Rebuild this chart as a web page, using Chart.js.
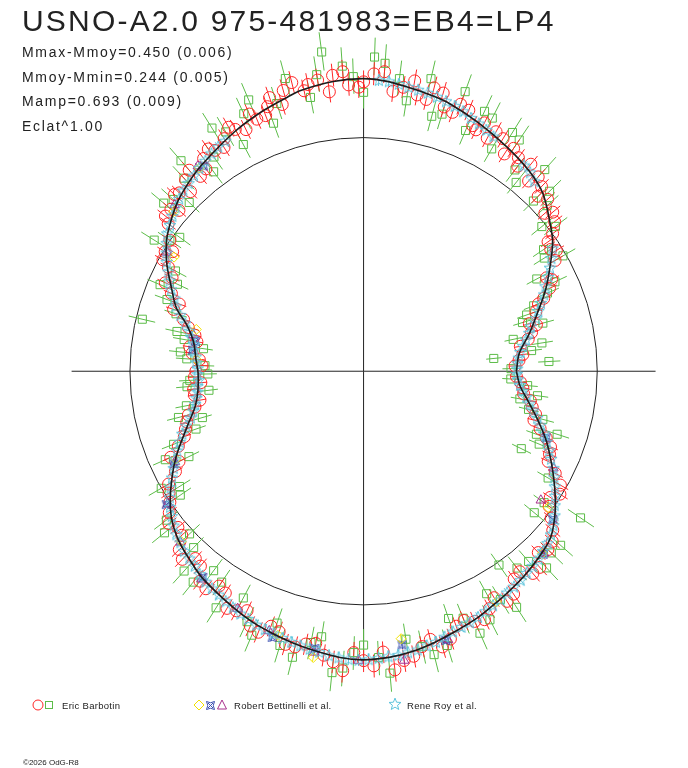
<!DOCTYPE html>
<html>
<head>
<meta charset="utf-8">
<script src="https://cdn.jsdelivr.net/npm/chart.js@4.4.1/dist/chart.umd.min.js"></script>
<style>
    body { margin: 0; background: #fff; }
    #wrap { position: relative; width: 688px; height: 768px; overflow: hidden; }
    #polar { position: absolute; left: 0; top: 0; }
    .txt { position: absolute; font-family: "Liberation Sans", Arial, sans-serif; color: #222; white-space: nowrap; }
    #title { left: 22px; top: 6px; font-size: 30px; line-height: 30px; letter-spacing: 2.2px; }
    .stat { left: 22px; font-size: 14px; line-height: 14px; letter-spacing: 1.7px; }
    .leg { font-size: 9.5px; line-height: 9.5px; letter-spacing: 0.3px; top: 701px; }
    #copy { left: 23px; top: 759px; font-size: 8px; line-height: 8px; }
</style>
</head>
<body>
<div id="wrap">
    <canvas id="polar" width="688" height="768"></canvas>
    <div class="txt" id="title">USNO-A2.0 975-481983=EB4=LP4</div>
    <div class="txt stat" style="top:45px">Mmax-Mmoy=0.450 (0.006)</div>
    <div class="txt stat" style="top:70px">Mmoy-Mmin=0.244 (0.005)</div>
    <div class="txt stat" style="top:94px">Mamp=0.693 (0.009)</div>
    <div class="txt stat" style="top:119px">Eclat^1.00</div>
    <div class="txt leg" style="left:62px">Eric Barbotin</div>
    <div class="txt leg" style="left:234px">Robert Bettinelli et al.</div>
    <div class="txt leg" style="left:407px">Rene Roy et al.</div>
    <div class="txt" id="copy">©2026 OdG-R8</div>
</div>
<script>
// phase in degrees (0 = primary minimum, counter-clockwise), magnitude relative to Mmoy
// radius of a point = flux ^ 1.00 (Eclat^1.00), mean circle = Mmoy

// fitted light curve
const curvePhase = [0, 6.5, 12.7, 18.9, 24.3, 30.2, 34.2, 37.8, 44.7, 50.4, 57.4, 65.2, 72, 76.2, 80.9, 85.6, 90.2, 96, 102.5, 105.5,
    111.5, 118.2, 127.9, 132.4, 137.4, 141.8, 146.3, 151.1, 156.8, 161.5, 165.1, 169.9, 176.3, 180.3, 186.4, 191.8, 197, 204.9, 211.8, 217.2,
    222.3, 227.3, 232.3, 240.7, 246, 250.5, 255, 259.8, 265.3, 269.8, 275.1, 279.7, 284.8, 290.1, 294.7, 298.7, 302.9, 308.9, 315.3, 318.5,
    321.2, 325.2, 330.7, 335, 339.6, 345, 350, 355];
const curveMag = [0.461, 0.434, 0.347, 0.257, 0.169, 0.083, 0.024, -0.014, -0.083, -0.114, -0.140, -0.170, -0.198, -0.210, -0.222, -0.236, -0.242, -0.237, -0.224, -0.212,
    -0.190, -0.164, -0.125, -0.106, -0.081, -0.050, -0.014, 0.041, 0.122, 0.184, 0.262, 0.326, 0.359, 0.374, 0.367, 0.332, 0.260, 0.130, 0.031, -0.035,
    -0.075, -0.100, -0.125, -0.153, -0.172, -0.184, -0.196, -0.208, -0.222, -0.227, -0.222, -0.212, -0.195, -0.176, -0.162, -0.146, -0.132, -0.113, -0.089, -0.073,
    -0.047, 0.000, 0.075, 0.135, 0.200, 0.288, 0.368, 0.434];

// Eric Barbotin - circles
const barbRedPhase = [2, 6, 9, 13, 16, 19, 22, 24, 27, 30, 33, 36, 38, 41, 43, 46, 49, 51, 54, 57, 59, 62, 64, 66, 68, 71, 74, 77, 80, 84,
    88, 91, 94, 97, 99, 102, 104, 107, 109, 111, 114, 116, 119, 122, 125, 128, 131, 134, 137, 140, 143, 146, 149, 152, 156, 160, 164, 168, 172, 176,
    180, 184, 188, 192, 196, 200, 204, 208, 212, 216, 220, 224, 228, 232, 236, 240, 244, 248, 252, 256, 260, 264, 266, 268, 272, 276, 280, 284, 288, 292,
    296, 300, 304, 308, 312, 316, 320, 324, 328, 332, 336, 340, 344, 348, 352, 356,
    4, 11, 15, 21, 26, 32, 35, 40, 45, 48, 53, 56, 61, 65, 70, 73, 76, 79, 82, 86, 90, 93, 96, 101, 106, 110, 113, 118, 121, 124,
    127, 130, 133, 136, 139, 142, 148, 151, 154, 158, 162, 166, 170, 174, 178, 182, 186, 190, 194, 198, 202, 206, 210, 214, 218, 222, 226, 230, 234, 238,
    242, 246, 250, 254, 258, 262, 270, 274, 278, 282, 286, 290, 294, 298, 302, 306, 310, 314, 318, 322, 326, 330, 334, 338, 342, 346, 350, 354, 358];
const barbRedMag = [0.47, 0.41, 0.42, 0.33, 0.33, 0.27, 0.20, 0.15, 0.14, 0.06, 0.05, 0.00, -0.04, -0.03, -0.08, -0.10, -0.08, -0.14, -0.13, -0.11, -0.16, -0.13, -0.18, -0.15, -0.20, -0.17, -0.23, -0.19, -0.25, -0.20,
    -0.26, -0.21, -0.27, -0.20, -0.25, -0.22, -0.26, -0.19, -0.23, -0.17, -0.20, -0.15, -0.19, -0.13, -0.16, -0.10, -0.14, -0.07, -0.11, -0.08, -0.05, 0.00, 0.01, 0.06, 0.08, 0.19, 0.24, 0.33, 0.31, 0.38,
    0.36, 0.39, 0.34, 0.33, 0.26, 0.22, 0.11, 0.10, 0.02, -0.03, -0.04, -0.10, -0.08, -0.14, -0.11, -0.17, -0.14, -0.20, -0.17, -0.21, -0.18, -0.24, -0.27, -0.20, -0.25, -0.27, -0.23, -0.18, -0.20, -0.15,
    -0.18, -0.12, -0.15, -0.09, -0.13, -0.10, -0.06, 0.02, 0.01, 0.08, 0.15, 0.20, 0.30, 0.33, 0.40, 0.43,
    0.44, 0.36, 0.29, 0.24, 0.12, 0.03, 0.04, -0.06, -0.06, -0.12, -0.10, -0.15, -0.17, -0.14, -0.21, -0.18, -0.24, -0.20, -0.22, -0.27, -0.23, -0.22, -0.26, -0.24, -0.24, -0.20, -0.17, -0.17, -0.16, -0.14,
    -0.14, -0.09, -0.12, -0.10, -0.05, -0.08, 0.04, 0.02, 0.10, 0.13, 0.17, 0.28, 0.35, 0.33, 0.40, 0.35, 0.34, 0.37, 0.28, 0.24, 0.17, 0.14, 0.04, 0.00, -0.06, -0.05, -0.12, -0.09, -0.15, -0.12,
    -0.16, -0.19, -0.16, -0.21, -0.19, -0.22, -0.23, -0.20, -0.24, -0.20, -0.22, -0.16, -0.17, -0.15, -0.16, -0.10, -0.13, -0.08, -0.09, -0.02, 0.04, 0.03, 0.14, 0.16, 0.25, 0.30, 0.35, 0.41, 0.46];
const barbRedErr = 0.042;

// Eric Barbotin - squares
const barbGreenPhase = [3, 5.6, 9, 12, 17, 21, 25, 28, 30, 34, 39, 42, 45, 48, 53, 56, 60, 63, 67, 70, 73, 77, 81, 86, 90, 94, 97.5, 101, 105, 110,
    113, 118, 122, 127, 131, 136, 140, 144, 148, 152, 157, 163, 166.8, 170, 174, 178, 183, 187, 191, 196, 201, 206, 210, 214, 219, 223, 228, 233, 238, 242,
    247, 251, 256, 261, 266, 270, 275, 279, 284, 289, 294, 299, 303, 305, 311, 313, 318.6, 320.4, 326, 333.9, 337.5, 342, 347, 352, 357,
    1, 7, 15, 19, 23, 32, 37, 44, 51, 58, 65, 75, 83, 88, 92, 99, 108, 115, 120, 125, 133, 138, 146, 155, 160, 168, 172, 176, 181, 185,
    194, 199, 204, 212, 217, 226, 231, 236, 245, 253, 259, 264, 268, 273, 282, 287, 292, 297, 301, 308, 316, 324, 330, 340, 345, 350, 355];
const barbGreenMag = [0.25, 0.63, 0.28, 0.46, 0.37, 0.27, 0.11, 0.19, 0.016, 0.08, 0.02, -0.06, -0.03, -0.16, -0.08, -0.19, -0.10, -0.21, -0.12, -0.26, -0.15, -0.27, -0.17, -0.30, -0.19, -0.29, -0.346, -0.19, -0.28, -0.13,
    -0.25, -0.10, -0.22, -0.07, -0.19, -0.04, -0.12, 0.03, -0.06, 0.10, 0.06, 0.19, 0.03, 0.27, 0.258, 0.42, 0.32, 0.44, 0.28, 0.36, 0.15, 0.20, 0.00, 0.06, -0.10, -0.02, -0.15, -0.07, -0.19, -0.10,
    -0.22, -0.14, -0.25, -0.15, -0.26, -0.17, -0.28, -0.16, -0.24, -0.12, -0.22, -0.09, -0.20, -0.011, -0.08, -0.15, -0.127, 0.058, -0.123, 0.31, 0.224, 0.15, 0.35, 0.31, 0.50,
    0.50, 0.35, 0.25, 0.33, 0.17, 0.10, -0.03, -0.11, -0.04, -0.20, -0.22, -0.13, -0.25, -0.32, -0.25, -0.27, -0.20, -0.21, -0.18, -0.12, -0.13, -0.10, 0.00, 0.14, 0.12, 0.22, 0.40, 0.30, 0.44, 0.30,
    0.22, 0.30, 0.08, 0.08, -0.06, -0.05, -0.16, -0.09, -0.18, -0.22, -0.18, -0.28, -0.20, -0.22, -0.20, -0.22, -0.14, -0.19, -0.14, -0.07, -0.12, 0.05, 0.10, 0.26, 0.25, 0.42, 0.38];
const barbGreenErr = 0.065;

// Robert Bettinelli et al. - diamonds, stars, triangles
const bettYellowPhase = [129, 140, 149, 166, 176, 205, 223, 252, 260, 278, 300, 314.5, 323.6];
const bettYellowMag = [-0.12, -0.065, 0.06, 0.33, 0.36, 0.13, -0.07, -0.185, -0.235, -0.155, -0.14, -0.095, 0.02];
const bettBluePhase = [128, 170, 173, 206, 214, 232, 251, 260, 278, 287, 314.5, 322, 340];
const bettBlueMag = [-0.115, 0.34, 0.33, 0.11, -0.02, -0.12, -0.20, -0.20, -0.18, -0.20, -0.10, -0.03, 0.20];
const bettPurplePhase = [129, 138.7, 148.9, 168, 205.6, 214, 223, 232, 242, 250, 260, 269, 278, 287.5, 314.8, 324, 333];
const bettPurpleMag = [-0.13, -0.08, 0.02, 0.32, 0.12, -0.01, -0.075, -0.13, -0.15, -0.18, -0.215, -0.23, -0.24, -0.20, -0.10, 0.07, 0.10];
const bettErr = 0.016;

// Rene Roy et al. - stars
const royPhase = [1, 3, 5, 7, 9, 11, 13, 15, 17, 19, 21, 23, 25, 27, 29, 31, 33, 48, 50, 52,
    61, 63, 65, 67, 69, 71, 73, 75, 77, 79, 81, 83, 85, 87,
    121, 123, 125, 127, 129, 131, 133, 135, 137, 139, 141, 143, 145, 147, 149, 151, 153, 155, 157, 159, 161, 163, 165, 167, 169, 171,
    173, 175, 177, 179, 181, 183, 185, 187, 189, 191, 193, 195, 197, 199, 201, 203, 205, 207, 209, 211, 213, 215, 217, 219, 221, 223, 225, 227, 229, 231,
    233, 235, 237, 239, 241, 243, 245, 247, 249, 251, 253, 255, 257, 259, 261, 263, 265, 267, 269, 271, 273, 275, 277, 279, 281, 283, 285, 287, 289, 291,
    293, 295, 297, 299, 301, 303, 305, 307, 309, 311, 313, 315, 317, 319, 321, 323, 325, 327, 329, 331, 333, 335, 337, 339, 341, 343, 345, 347, 349, 351,
    353, 355, 357, 359];
const royMag = [0.455, 0.452, 0.44, 0.425, 0.40, 0.375, 0.345, 0.325, 0.28, 0.255, 0.225, 0.19, 0.165, 0.13, 0.10, 0.07, 0.04, -0.095, -0.112, -0.118,
    -0.148, -0.158, -0.168, -0.175, -0.188, -0.196, -0.203, -0.21, -0.216, -0.22, -0.224, -0.23, -0.236, -0.238,
    -0.15, -0.145, -0.138, -0.128, -0.12, -0.11, -0.102, -0.095, -0.083, -0.07, -0.056, -0.04, -0.028, -0.005, 0.018, 0.04, 0.07, 0.095, 0.12, 0.155, 0.175, 0.215, 0.255, 0.29, 0.315, 0.335,
    0.342, 0.355, 0.36, 0.372, 0.37, 0.378, 0.365, 0.362, 0.35, 0.335, 0.315, 0.29, 0.25, 0.215, 0.185, 0.155, 0.128, 0.10, 0.07, 0.04, 0.012, -0.012, -0.03, -0.05, -0.065, -0.075, -0.09, -0.097, -0.105, -0.118,
    -0.128, -0.135, -0.14, -0.148, -0.155, -0.163, -0.168, -0.176, -0.18, -0.184, -0.19, -0.195, -0.20, -0.205, -0.21, -0.218, -0.222, -0.226, -0.228, -0.225, -0.222, -0.218, -0.217, -0.212, -0.208, -0.20, -0.195, -0.185, -0.176, -0.17,
    -0.166, -0.16, -0.152, -0.145, -0.14, -0.13, -0.126, -0.12, -0.112, -0.106, -0.10, -0.09, -0.08, -0.066, -0.048, -0.025, 0.002, 0.025, 0.05, 0.075, 0.10, 0.132, 0.16, 0.19, 0.22, 0.255, 0.285, 0.32, 0.352, 0.38,
    0.41, 0.43, 0.448, 0.458];
const royErr = 0.022;

const R0 = 238.5; // radius of the mean (Mmoy) circle, in plot units

function toXY(phaseDeg, mag) {
    const r = R0 * Math.pow(10, -0.4 * mag);
    const a = phaseDeg * Math.PI / 180;
    return { x: r * Math.cos(a), y: r * Math.sin(a) };
}
function points(phases, mags) {
    return phases.map((p, i) => toXY(p, mags[i]));
}

// custom symbols
function makeStarIcon(color) {
    const c = document.createElement('canvas');
    c.width = 14; c.height = 14;
    const g = c.getContext('2d');
    g.strokeStyle = color; g.lineWidth = 1;
    g.beginPath();
    for (let k = 0; k < 10; k++) {
        const rr = k % 2 === 0 ? 6.3 : 2.7;
        const a = -Math.PI / 2 + k * Math.PI / 5;
        const px = 7 + rr * Math.cos(a), py = 7.4 + rr * Math.sin(a);
        if (k === 0) g.moveTo(px, py); else g.lineTo(px, py);
    }
    g.closePath(); g.stroke();
    return c;
}
function makeAstroidIcon(color) {
    const c = document.createElement('canvas');
    c.width = 11; c.height = 11;
    const g = c.getContext('2d');
    g.strokeStyle = color; g.lineWidth = 1;
    g.beginPath();
    g.moveTo(1.5, 1.5);
    g.quadraticCurveTo(5.5, 4, 9.5, 1.5);
    g.quadraticCurveTo(7, 5.5, 9.5, 9.5);
    g.quadraticCurveTo(5.5, 7, 1.5, 9.5);
    g.quadraticCurveTo(4, 5.5, 1.5, 1.5);
    g.moveTo(3, 3); g.lineTo(8, 8);
    g.moveTo(8, 3); g.lineTo(3, 8);
    g.stroke();
    return c;
}

const cRed = '#ff2626', cGreen = '#5cbc48', cYellow = '#f2e200', cBlue = '#3a4fb0', cPurple = '#a8308c', cCyan = '#5ec4dc';
const starIcon = makeStarIcon(cCyan);
const astroidIcon = makeAstroidIcon(cBlue);

function obs(label, phases, mags, err, color, style, radius, order) {
    return {
        label: label,
        data: points(phases, mags),
        src: { phases: phases, mags: mags, err: err },
        showLine: false,
        pointStyle: style,
        pointRadius: radius,
        pointBorderWidth: 1,
        borderColor: color,
        backgroundColor: 'rgba(0,0,0,0)',
        order: order
    };
}

const curveData = points(curvePhase.concat([curvePhase[0] + 360]), curveMag.concat([curveMag[0]]));

// axes, mean circle and radial error bars
const polarFrame = {
    id: 'polarFrame',
    beforeDatasetsDraw(chart) {
        const ctx = chart.ctx;
        const sx = chart.scales.x, sy = chart.scales.y;
        const rMax = R0 * Math.pow(10, -0.4 * Math.min.apply(null, curveMag));
        ctx.save();
        ctx.strokeStyle = '#222';
        ctx.lineWidth = 1;
        ctx.beginPath();
        ctx.moveTo(sx.getPixelForValue(-rMax), sy.getPixelForValue(0));
        ctx.lineTo(sx.getPixelForValue(rMax), sy.getPixelForValue(0));
        ctx.moveTo(sx.getPixelForValue(0), sy.getPixelForValue(rMax));
        ctx.lineTo(sx.getPixelForValue(0), sy.getPixelForValue(-rMax));
        ctx.stroke();
        ctx.beginPath();
        const cx = sx.getPixelForValue(0), cy = sy.getPixelForValue(0);
        ctx.arc(cx, cy, sx.getPixelForValue(R0) - cx, 0, Math.PI * 2);
        ctx.stroke();

        // error bars, drawn back to front like the markers
        const sets = chart.data.datasets.filter(d => d.src).sort((a, b) => b.order - a.order);
        sets.forEach(ds => {
            ctx.strokeStyle = ds.borderColor;
            ctx.beginPath();
            ds.src.phases.forEach((p, i) => {
                const a = toXY(p, ds.src.mags[i] + ds.src.err);
                const b = toXY(p, ds.src.mags[i] - ds.src.err);
                ctx.moveTo(sx.getPixelForValue(a.x), sy.getPixelForValue(a.y));
                ctx.lineTo(sx.getPixelForValue(b.x), sy.getPixelForValue(b.y));
            });
            ctx.stroke();
        });
        ctx.restore();
    },
    afterDraw(chart) {
        // legend symbols
        const ctx = chart.ctx;
        const y = 705;
        ctx.save();
        ctx.lineWidth = 1;
        ctx.strokeStyle = cRed;
        ctx.beginPath(); ctx.arc(38, y, 5, 0, Math.PI * 2); ctx.stroke();
        ctx.strokeStyle = cGreen;
        ctx.strokeRect(45.5, 701.5, 7, 7);
        ctx.strokeStyle = cYellow;
        ctx.beginPath(); ctx.moveTo(199, y - 5); ctx.lineTo(204, y); ctx.lineTo(199, y + 5); ctx.lineTo(194, y); ctx.closePath(); ctx.stroke();
        ctx.drawImage(astroidIcon, 205, 700);
        ctx.strokeStyle = cPurple;
        ctx.beginPath(); ctx.moveTo(222, y - 5); ctx.lineTo(226.5, y + 4); ctx.lineTo(217.5, y + 4); ctx.closePath(); ctx.stroke();
        ctx.drawImage(starIcon, 388, 697);
        ctx.restore();
    }
};

let polarChart = null;

document.addEventListener("DOMContentLoaded", function () {
    const ctx = document.getElementById('polar').getContext('2d');
    polarChart = new Chart(ctx, {
        type: 'scatter',
        data: {
            datasets: [
                {
                    label: 'fit',
                    data: curveData,
                    showLine: true,
                    borderColor: '#1c1c1c',
                    borderWidth: 1.6,
                    pointRadius: 0,
                    tension: 0.35,
                    order: 0
                },
                obs('Rene Roy et al.', royPhase, royMag, royErr, cCyan, starIcon, 6, 1),
                obs('Bettinelli V', bettYellowPhase, bettYellowMag, bettErr, cYellow, 'rectRot', 5, 2),
                obs('Bettinelli B', bettBluePhase, bettBlueMag, bettErr, cBlue, astroidIcon, 5, 3),
                obs('Bettinelli R', bettPurplePhase, bettPurpleMag, bettErr, cPurple, 'triangle', 5.5, 4),
                obs('Eric Barbotin', barbRedPhase, barbRedMag, barbRedErr, cRed, 'circle', 6, 5),
                obs('Eric Barbotin sq', barbGreenPhase, barbGreenMag, barbGreenErr, cGreen, 'rect', 5.7, 6)
            ]
        },
        options: {
            responsive: false,
            animation: false,
            events: [],
            layout: { padding: 0 },
            scales: {
                x: { type: 'linear', min: -364, max: 324, display: false },
                y: { type: 'linear', min: -397, max: 371, display: false }
            },
            plugins: {
                legend: { display: false },
                tooltip: { enabled: false }
            }
        },
        plugins: [polarFrame]
    });
});
</script>
</body>
</html>
